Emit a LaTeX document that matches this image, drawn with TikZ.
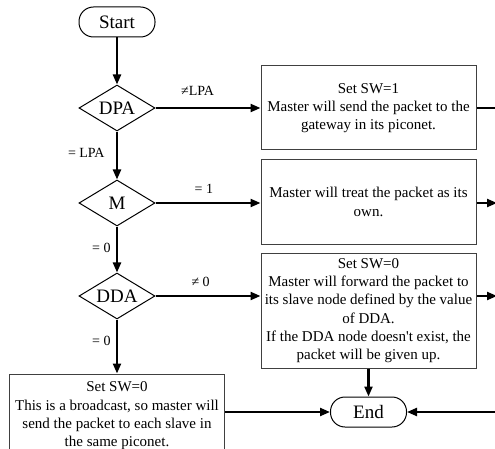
\documentclass[tikz,border=0pt]{standalone}
\usepackage{fontspec}
\setmainfont{Liberation Serif}
\usetikzlibrary{arrows.meta, positioning, shapes.geometric}

\begin{document}
\begin{tikzpicture}[x=1pt, y=-1pt,
    term/.style={draw, line width=1pt, rounded corners=14.5pt, minimum width=76pt, minimum height=30pt, inner sep=0pt, font=\fontsize{19}{22}\selectfont},
    decide/.style={draw, diamond, line width=1pt, aspect=1.65, minimum width=76pt, minimum height=46pt, inner sep=0pt, font=\fontsize{19}{22}\selectfont},
    proc/.style={draw=black!75, line width=1pt, minimum width=215pt, minimum height=84pt, align=center, font=\fontsize{15}{18.3}\selectfont},
    flow/.style={line width=2.2pt, -{Triangle[length=10pt, width=8pt]}},
    cond/.style={font=\fontsize{14}{16}\selectfont}]
    \useasboundingbox (0,0) rectangle (495,449);
    \clip (0,0) rectangle (495,449);

    % 主流程
    \node[term] (start) at (117,22) {Start};
    \node[decide, below=47pt of start] (dpa) {DPA};
    \node[decide, below=48pt of dpa] (m) {M};
    \node[decide, below=46pt of m] (dda) {DDA};
    \node[proc, below=54pt of dda] (bcast) {Set SW=0\\This is a broadcast, so master will\\send the packet to each slave in\\the same piconet.};

    % 右侧处理框
    \node[proc, right=105pt of dpa] (gw) {Set SW=1\\Master will send the packet to the\\gateway in its piconet.};
    \node[proc, below=9pt of gw] (own) {Master will treat the packet as its\\own.};
    \node[proc, minimum height=115pt, below=8pt of own] (fwd) {Set SW=0\\Master will forward the packet to\\its slave node defined by the value\\of DDA.\\If the DDA node doesn\textquotesingle t exist, the\\packet will be given up.};
    \node[term, below=28pt of fwd] (end) {End};
    \coordinate (rbus) at (497,0);

    % 连线
    \draw[flow] (start) -- (dpa);
    \draw[flow] (dpa) -- node[cond, left=8pt, pos=0.45] {= LPA} (m);
    \draw[flow] (m) -- node[cond, left=2pt, pos=0.46] {= 0} (dda);
    \draw[flow] (dda) -- node[cond, left=2pt, pos=0.4] {= 0} (bcast);
    \draw[flow] (dpa) -- node[cond, above=8pt, pos=0.4] {≠LPA} (dpa -| gw.west);
    \draw[flow] (m) -- node[cond, above=5pt, pos=0.46] {= 1} (m -| own.west);
    \draw[flow] (dda) -- node[cond, above=5pt, pos=0.43] {≠ 0} (dda -| fwd.west);
    \draw[flow] (fwd) -- (end);
    \draw[flow] (bcast.east |- end) -- (end);
    \draw[flow] (rbus |- end) -- (end);

    % 右侧出口
    \draw[line width=2.2pt] (gw.east |- dpa) -- (rbus |- dpa);
    \draw[flow] (own.east |- m) -- (rbus |- m);
    \draw[flow] (fwd.east |- dda) -- (rbus |- dda);
\end{tikzpicture}
\end{document}
